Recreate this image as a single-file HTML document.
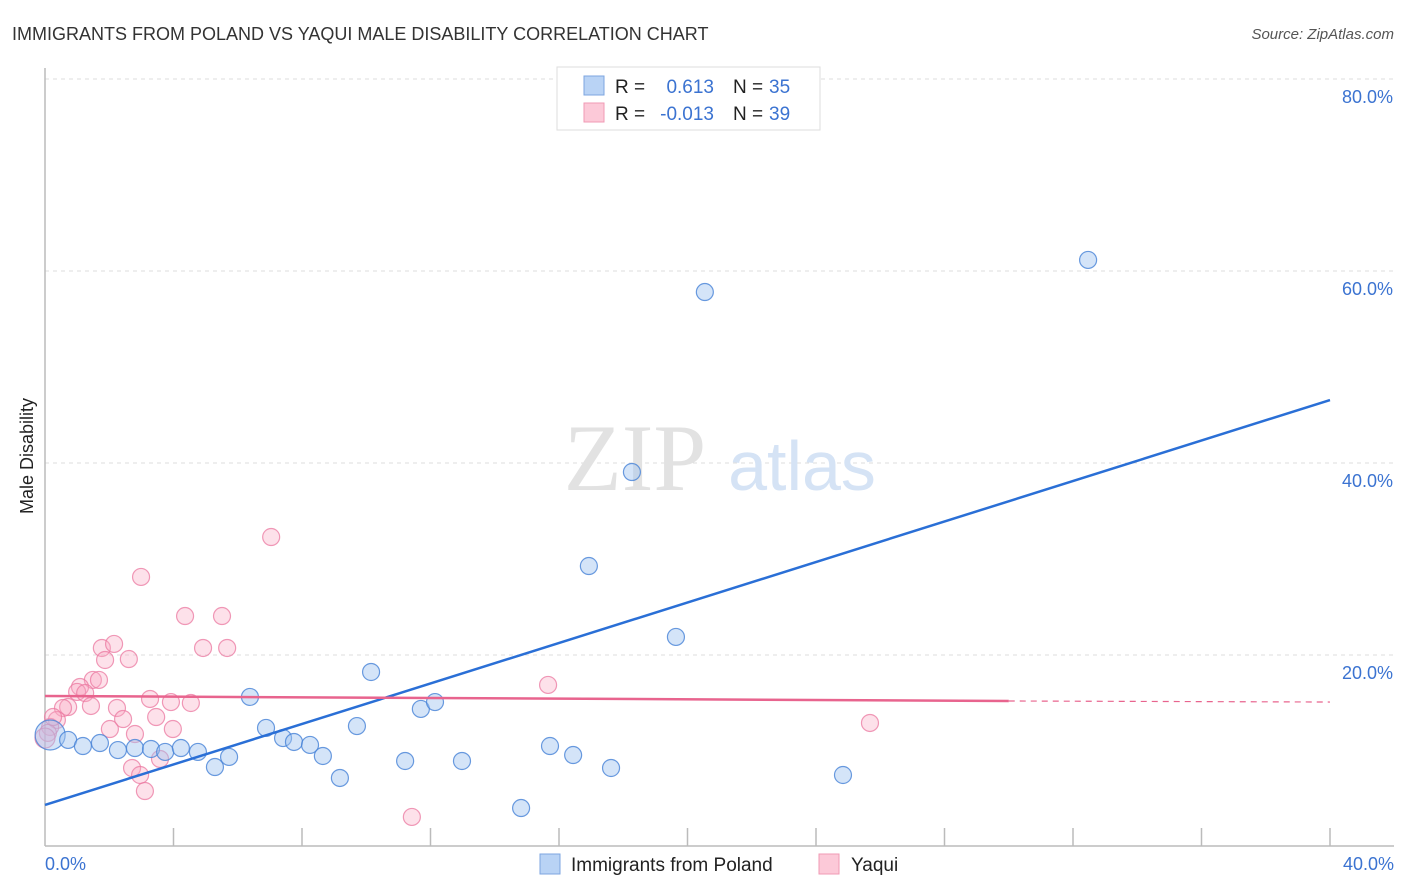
<!DOCTYPE html>
<html><head><meta charset="utf-8">
<style>
body{margin:0;background:#fff;font-family:"Liberation Sans",sans-serif;}
svg{display:block}
</style></head>
<body>
<svg id="chart" width="1406" height="892" xmlns="http://www.w3.org/2000/svg">
<text x="12" y="40" font-size="18" fill="#333">IMMIGRANTS FROM POLAND VS YAQUI MALE DISABILITY CORRELATION CHART</text>
<text x="1394" y="39" font-size="15" fill="#555" font-style="italic" text-anchor="end">Source: ZipAtlas.com</text>
<g id="grid"></g>
<g>
<text x="635" y="490" font-size="95" fill="#e2e2e2" font-family="Liberation Serif,serif" text-anchor="middle">ZIP</text>
<text x="802" y="490" font-size="70" fill="#d5e3f5" text-anchor="middle">atlas</text>
</g>
<line x1="45" y1="68" x2="45" y2="846" stroke="#bbb" stroke-width="1.5"/>
<line x1="45" y1="846" x2="1394" y2="846" stroke="#bbb" stroke-width="1.5"/>
<g id="xticks"></g>
<text x="45" y="870" font-size="18" fill="#3b73d1">0.0%</text>
<text x="1394" y="870" font-size="18" fill="#3b73d1" text-anchor="end">40.0%</text>
<text transform="translate(33,456) rotate(-90)" font-size="18" fill="#222" text-anchor="middle">Male Disability</text>
<g id="pts"></g>
<g id="trends"></g>
<g>
<rect x="557" y="67" width="263" height="63" fill="#fff" stroke="#ddd"/>
<rect x="584" y="76" width="20" height="19" fill="#b9d3f5" stroke="#7da6e0"/>
<rect x="584" y="103" width="20" height="19" fill="#fcc9d8" stroke="#f09ab4"/>
<text x="615" y="93" font-size="19" fill="#222">R =</text>
<text x="714" y="93" font-size="19" fill="#3b73d1" text-anchor="end">0.613</text>
<text x="733" y="93" font-size="19" fill="#222">N =</text>
<text x="769" y="93" font-size="19" fill="#3b73d1">35</text>
<text x="615" y="120" font-size="19" fill="#222">R =</text>
<text x="714" y="120" font-size="19" fill="#3b73d1" text-anchor="end">-0.013</text>
<text x="733" y="120" font-size="19" fill="#222">N =</text>
<text x="769" y="120" font-size="19" fill="#3b73d1">39</text>
</g>
<g>
<rect x="540" y="854" width="20" height="20" fill="#b9d3f5" stroke="#7da6e0"/>
<text x="571" y="871" font-size="19" fill="#222">Immigrants from Poland</text>
<rect x="819" y="854" width="20" height="20" fill="#fcc9d8" stroke="#f09ab4"/>
<text x="851" y="871" font-size="19" fill="#222">Yaqui</text>
</g>
</svg>
<script>
const yTicks=[20,40,60,80];
const yTickLabels=["20.0%","40.0%","60.0%","80.0%"];
const xTicks=[4,8,12,16,20,24,28,32,36,40];
const polandX=[0.16,0.72,1.18,1.71,2.27,2.80,3.30,3.74,4.23,4.76,5.29,5.73,6.38,6.88,7.41,7.75,8.25,8.65,9.18,9.71,10.15,11.21,11.70,12.14,12.98,14.82,15.72,16.44,16.93,17.62,18.27,19.64,20.54,24.84,32.47];
const polandY=[11.67,11.15,10.52,10.83,10.10,10.31,10.21,9.90,10.31,9.90,8.33,9.38,15.63,12.40,11.35,10.94,10.63,9.48,7.19,12.60,18.23,8.96,14.38,15.10,8.96,4.06,10.52,9.58,29.27,8.23,39.06,21.88,57.81,7.5,61.15];
const yaquiX=[2.99,7.04,4.36,5.51,1.77,2.15,1.87,2.61,4.92,5.67,1.49,1.68,1.09,1.00,1.25,1.43,0.72,0.56,3.27,3.92,4.54,2.24,2.43,3.46,2.02,3.98,2.80,0.37,0.16,0.09,2.71,2.96,3.11,3.58,11.42,15.66,25.68,0.25,0.0];
const yaquiY=[28.13,32.29,24.06,24.06,20.73,21.15,19.48,19.58,20.73,20.73,17.40,17.40,16.67,16.15,16.04,14.69,14.58,14.48,15.42,15.10,15.00,14.48,13.33,13.54,12.29,12.29,11.77,13.23,12.50,11.88,8.23,7.50,5.83,9.17,3.13,16.88,12.92,13.54,11.35];
const polandTrend=[0,4.38,40,46.56];
const yaquiTrend=[0,15.73,30,15.21,40,15.1];
const NS="http://www.w3.org/2000/svg";
const X=v=>45+v*32.125, Y=v=>847-v*9.6;
function mk(tag,attrs,parent){const e=document.createElementNS(NS,tag);for(const k in attrs)e.setAttribute(k,attrs[k]);parent.appendChild(e);return e;}
const grid=document.getElementById('grid');
yTicks.forEach((t,i)=>{
 const l=mk('line',{x1:45,x2:1394,y1:Y(t),y2:Y(t),stroke:'#ddd','stroke-dasharray':'4,4'},grid);
 
 
 const tx=mk('text',{x:1393,y:Y(t)+24,'font-size':18,fill:'#3b73d1','text-anchor':'end'},grid);
 tx.textContent=yTickLabels[i];
 
 
});
const xt=document.getElementById('xticks');
xTicks.forEach(t=>{
 const l=mk('line',{x1:X(t),x2:X(t),y1:828,y2:846,stroke:'#bbb','stroke-width':1.5},xt);
 
 
});
const pts=document.getElementById('pts');
yaquiX.forEach((x,i)=>{
 const c=mk('circle',{cx:X(x),cy:Y(yaquiY[i]),r:i===yaquiX.length-1?10:8.5,fill:'rgba(248,170,195,0.35)',stroke:'rgba(235,120,160,0.75)','stroke-width':1.2},pts);
 
 
});
polandX.forEach((x,i)=>{
 const c=mk('circle',{cx:X(x),cy:Y(polandY[i]),r:i===0?15:8.5,fill:'rgba(160,195,240,0.45)',stroke:'rgba(70,130,215,0.8)','stroke-width':1.2},pts);
 
 
});
const tr=document.getElementById('trends');
let l1=mk('line',{x1:X(polandTrend[0]),y1:Y(polandTrend[1]),x2:X(polandTrend[2]),y2:Y(polandTrend[3]),stroke:'#2a6fd6','stroke-width':2.5},tr);


let l2=mk('line',{x1:X(yaquiTrend[0]),y1:Y(yaquiTrend[1]),x2:X(yaquiTrend[2]),y2:Y(yaquiTrend[3]),stroke:'#e8648e','stroke-width':2.5},tr);


let l3=mk('line',{x1:X(yaquiTrend[2]),y1:Y(yaquiTrend[3]),x2:X(yaquiTrend[4]),y2:Y(yaquiTrend[5]),stroke:'#e8648e','stroke-width':1.2,'stroke-dasharray':'6,5'},tr);


</script>
</body></html>
